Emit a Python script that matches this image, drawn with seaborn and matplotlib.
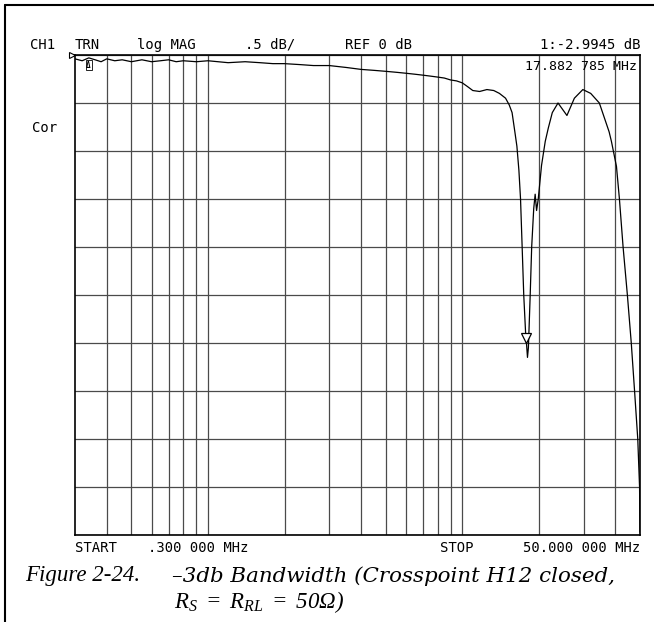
import pandas as pd
import seaborn as sns
import matplotlib.pyplot as plt
from matplotlib.lines import Line2D
from matplotlib.ticker import NullLocator
from matplotlib.transforms import offset_copy, blended_transform_factory

# trace (MHz, dB)
freq_mhz = [0.300, 0.32, 0.34, 0.36, 0.38, 0.40, 0.43, 0.46, 0.50, 0.55,
            0.60, 0.65, 0.70, 0.75, 0.80, 0.90, 1.00, 1.2, 1.4, 1.6,
            1.8, 2.0, 2.3, 2.6, 3.0, 3.5, 4.0, 4.5, 5.0, 5.5,
            6.0, 6.5, 7.0, 7.5, 8.0, 8.5, 9.0, 9.5, 10.0, 10.5,
            11.0, 11.7, 12.5, 13.3, 14.0, 14.8, 15.3, 15.7, 16.1, 16.4,
            16.7, 16.95, 17.2, 17.45, 17.75, 17.88, 18.05, 18.2, 18.5, 18.75,
            19.1, 19.35, 19.6, 19.9, 20.5, 21.2, 21.8, 22.6, 23.8, 25.8,
            27.6, 29.8, 32.0, 34.6, 37.8, 38.6, 40.4, 41.5, 42.9, 44.6,
            46.2, 47.6, 49.0, 49.8, 50.0]
mag_db = [-0.04, -0.06, -0.03, -0.05, -0.07, -0.04, -0.06, -0.05, -0.07, -0.05,
          -0.07, -0.06, -0.05, -0.07, -0.06, -0.07, -0.06, -0.08, -0.07, -0.08,
          -0.09, -0.09, -0.10, -0.11, -0.11, -0.13, -0.15, -0.16, -0.17, -0.18,
          -0.19, -0.20, -0.21, -0.22, -0.23, -0.24, -0.26, -0.27, -0.29, -0.33,
          -0.37, -0.38, -0.36, -0.37, -0.40, -0.45, -0.52, -0.60, -0.80, -0.95,
          -1.20, -1.50, -2.00, -2.50, -2.90, -2.9945, -3.15, -3.05, -2.50, -2.00,
          -1.60, -1.45, -1.62, -1.50, -1.15, -0.90, -0.76, -0.60, -0.50, -0.63,
          -0.45, -0.36, -0.40, -0.50, -0.80, -0.90, -1.16, -1.50, -2.00, -2.50,
          -3.00, -3.50, -4.00, -4.50, -4.97]

grid_freqs = [0.4, 0.5, 0.6, 0.7, 0.8, 0.9, 1, 2, 3, 4, 5, 6, 7, 8, 9, 10, 20, 30, 40]
db_lines = [-5.0, -4.5, -4.0, -3.5, -3.0, -2.5, -2.0, -1.5, -1.0, -0.5, 0.0]

marker_freq = 17.882785
marker_db = -2.9945

sns.set_style('white')
plt.rcParams['font.family'] = ['DejaVu Sans Mono']
plt.rcParams['text.color'] = 'black'
plt.rcParams['mathtext.fontset'] = 'custom'
plt.rcParams['mathtext.it'] = 'Liberation Serif:italic'
plt.rcParams['mathtext.rm'] = 'Liberation Serif:italic'

W, H = 654, 622
fig = plt.figure(figsize=(W / 100, H / 100), dpi=100)
ax = fig.add_axes([75 / W, 1 - 535 / H, 565 / W, 480 / H])
ax.set_xscale('log')

df = pd.DataFrame({'freq': freq_mhz, 'db': mag_db})
sns.lineplot(data=df, x='freq', y='db', ax=ax, color='black', lw=0.9,
             sort=False, estimator=None)

ax.set_xlim(0.3, 50)
ax.set_ylim(-5, 0)
ax.set_xticks(grid_freqs)
ax.xaxis.set_minor_locator(NullLocator())
ax.set_yticks(db_lines)
ax.tick_params(length=0, labelbottom=False, labelleft=False)
ax.grid(True, color='#4a4a4a', lw=0.9)
ax.set_xlabel('')
ax.set_ylabel('')
for s in ax.spines.values():
    s.set_visible(True)
    s.set_color('black')
    s.set_linewidth(1.2)

# marker triangle, tip on the marker point
ax.plot([marker_freq], [marker_db], marker='v', ms=7, mfc='white', mec='black',
        mew=0.9, transform=offset_copy(ax.transData, fig=fig, y=3.5, units='points'))
# reference position marker at left edge
ax.plot([-0.006], [0.0], marker='>', ms=4, mfc='white', mec='black', mew=0.8,
        transform=blended_transform_factory(ax.transAxes, ax.transData), clip_on=False)
ax.text(0.02, 0.988, '\u0394', transform=ax.transAxes, fontsize=5.5, fontweight='bold',
        va='top', ha='left', bbox=dict(boxstyle='square,pad=0.08', fc='white', ec='black', lw=0.6))


def px_text(x, y, s, **kw):
    fig.text(x / W, 1 - y / H, s, va='center', color='black', **kw)


fs = 10
px_text(30, 45, 'CH1', fontsize=fs)
px_text(75, 45, 'TRN', fontsize=fs)
px_text(137, 45, 'log MAG', fontsize=fs)
px_text(245, 45, '.5 dB/', fontsize=fs)
px_text(345, 45, 'REF 0 dB', fontsize=fs)
px_text(640, 45, '1:-2.9945 dB', fontsize=fs, ha='right')
px_text(637, 66, '17.882 785 MHz', fontsize=9.5, ha='right')
px_text(32, 128, 'Cor', fontsize=fs)
px_text(75, 548, 'START', fontsize=fs)
px_text(148, 548, '.300 000 MHz', fontsize=fs)
px_text(440, 548, 'STOP', fontsize=fs)
px_text(640, 548, '50.000 000 MHz', fontsize=fs, ha='right')

px_text(25, 576, 'Figure 2-24.', fontsize=16.5, family='Liberation Serif', style='italic')
px_text(172, 576, '\u20133db Bandwidth (Crosspoint H12 closed,', fontsize=15.4,
        family='DejaVu Serif', style='italic')
px_text(174, 602, r'$R_S\ =\ R_{RL}\ =\ 50\Omega)$', fontsize=16.5)

# page frame
fig.add_artist(Line2D([5 / W, 5 / W], [0, 1 - 5 / H], color='black', lw=1.5,
                      transform=fig.transFigure))
fig.add_artist(Line2D([5 / W, 1], [1 - 5 / H, 1 - 5 / H], color='black', lw=1.5,
                      transform=fig.transFigure))

fig.savefig('out.png', dpi=100)
